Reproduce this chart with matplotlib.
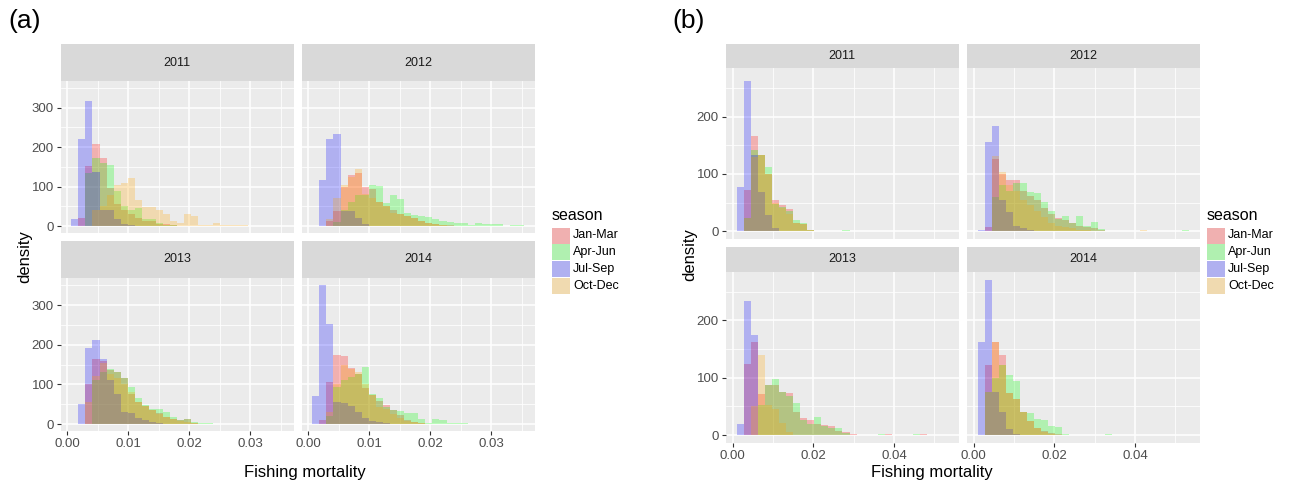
import numpy as np
import matplotlib.pyplot as plt

W, H = 1298, 483
plt.rcParams['font.family'] = ['Liberation Sans', 'DejaVu Sans']

seasons = ['Jan-Mar', 'Apr-Jun', 'Jul-Sep', 'Oct-Dec']
fills = ['#FF0000', '#00FF00', '#0000FF', '#FFA500']
years = ['2011', '2012', '2013', '2014']

# histogram bins (start of first bin, bin width)
a_start, a_width = 0.00064, 0.00116
b_start, b_width = 0.00096, 0.00175

# (a) densities per bin
a11_jan = [0, 21, 152, 208, 173, 97, 55, 40, 30, 20, 12, 12, 5, 5, 3]
a11_apr = [0, 0, 135, 173, 160, 155, 90, 50, 42, 46, 17, 17, 7, 4, 2]
a11_jul = [19, 220, 317, 137, 42, 40, 17, 5, 3]
a11_oct = [0, 0, 0, 42, 50, 80, 104, 110, 121, 65, 49, 49, 41, 30, 14, 7, 31, 25, 2, 2, 7, 4, 3, 2, 2]

a12_jan = [0, 0, 13, 38, 100, 130, 135, 100, 95, 60, 50, 40, 30, 25, 20, 12, 8, 5, 3, 2]
a12_apr = [0, 0, 0, 10, 40, 60, 80, 80, 103, 102, 59, 78, 69, 32, 29, 26, 23, 18, 13, 11,
           7, 7, 3, 9, 5, 5, 5, 0, 3, 3]
a12_jul = [0, 117, 220, 232, 38, 38, 20, 5]
a12_oct = [0, 0, 17, 72, 105, 125, 144, 82, 70, 60, 50, 32, 30, 25, 20, 12, 8, 5, 2]

a13_jan = [0, 0, 102, 165, 160, 137, 132, 117, 77, 56, 45, 35, 29, 18, 12, 10, 14, 3]
a13_apr = [0, 0, 0, 110, 132, 138, 130, 115, 94, 65, 48, 37, 37, 31, 17, 10, 14, 6, 3, 2]
a13_jul = [0, 50, 192, 213, 165, 111, 77, 31, 27, 15, 10, 5, 3]
a13_oct = [0, 0, 55, 120, 153, 125, 115, 100, 80, 55, 45, 35, 25, 18, 12, 8, 5, 3, 1]

a14_jan = [0, 10, 107, 174, 171, 142, 125, 92, 73, 59, 48, 35, 23, 10, 5, 3]
a14_apr = [0, 0, 20, 94, 111, 119, 127, 143, 77, 65, 44, 35, 34, 27, 27, 14, 3, 12, 10, 3, 3, 2]
a14_jul = [71, 350, 252, 55, 52, 45, 30, 15, 8, 5, 3]
a14_oct = [0, 0, 30, 100, 148, 140, 132, 100, 73, 44, 38, 25, 15, 8, 4, 2]

# (b) densities per bin
b11_jan = [0, 72, 167, 133, 100, 55, 45, 38, 15, 12, 2, 1, 1, 0, 1]
b11_apr = [0, 24, 142, 133, 113, 48, 42, 35, 20, 15, 2, 1, 0, 1, 0, 3]
b11_jul = [77, 262, 133, 68, 28, 5]
b11_oct = [0, 24, 130, 133, 100, 50, 40, 30, 15, 12, 2, 1]

b12_jan = [0, 7, 127, 100, 90, 90, 70, 62, 55, 40, 30, 24, 20, 15, 10, 8, 5, 2]
b12_apr = [0, 0, 60, 80, 71, 85, 85, 68, 66, 51, 36, 22, 27, 15, 27, 10, 16, 4, 1,
           0, 0, 0, 0, 0, 0, 0, 0, 0, 0, 2]
b12_jul = [2, 156, 183, 55, 33, 10, 5, 2]
b12_oct = [0, 0, 132, 103, 80, 70, 55, 45, 35, 25, 15, 10, 8, 5, 3, 2, 0, 0, 0, 0, 0, 0, 0, 2]

b13_jan = [0, 124, 162, 72, 88, 88, 75, 74, 40, 30, 26, 20, 17, 16, 8, 5, 2,
           0, 0, 0, 0, 2, 0, 0, 0, 0, 2]
b13_apr = [0, 0, 0, 52, 88, 97, 75, 68, 56, 27, 19, 32, 16, 13, 12, 4, 1,
           0, 0, 0, 2, 0, 0, 0, 0, 2]
b13_jul = [19, 234, 174]
b13_oct = [0, 0, 50, 139, 52, 45, 21, 5]

b14_jan = [0, 122, 163, 139, 74, 63, 40, 24, 13, 8, 4, 2, 1]
b14_apr = [0, 75, 100, 122, 104, 95, 40, 39, 28, 27, 16, 14, 3, 1, 1, 1, 0, 0, 2]
b14_jul = [163, 270, 75, 40, 10, 3]
b14_oct = [0, 75, 163, 122, 74, 63, 40, 24, 13, 5, 2]

a_data = {'2011': [a11_jan, a11_apr, a11_jul, a11_oct],
          '2012': [a12_jan, a12_apr, a12_jul, a12_oct],
          '2013': [a13_jan, a13_apr, a13_jul, a13_oct],
          '2014': [a14_jan, a14_apr, a14_jul, a14_oct]}
b_data = {'2011': [b11_jan, b11_apr, b11_jul, b11_oct],
          '2012': [b12_jan, b12_apr, b12_jul, b12_oct],
          '2013': [b13_jan, b13_apr, b13_jul, b13_oct],
          '2014': [b14_jan, b14_apr, b14_jul, b14_oct]}


def px_axes(fig, x0, x1, y0, y1):
    return fig.add_axes([x0 / W, 1 - y1 / H, (x1 - x0) / W, (y1 - y0) / H])


def blend(c, a=0.25, bg=(235 / 255, 235 / 255, 235 / 255)):
    from matplotlib.colors import to_rgb
    r = to_rgb(c)
    return tuple(a * r[i] + (1 - a) * bg[i] for i in range(3))


def draw_facets(fig, data, start, width, cols, rows, xlim, ylim, xmaj, xmin, ymaj, ymin, xfmt):
    for i, yr in enumerate(years):
        r, c = divmod(i, 2)
        (sy0, sy1), (py0, py1) = rows[r]
        x0, x1 = cols[c]
        ax = px_axes(fig, x0, x1, py0, py1)
        ax.set_facecolor('#EBEBEB')
        for h, col in zip(data[yr], fills):
            h = np.array(h, float)
            edges = start + width * np.arange(len(h) + 1)
            ax.stairs(h, edges, fill=True, color=col, alpha=0.25, linewidth=0)
        ax.set_xlim(xlim)
        ax.set_ylim(ylim)
        ax.set_xticks(xmaj)
        ax.set_xticks(xmin, minor=True)
        ax.set_yticks(ymaj)
        ax.set_yticks(ymin, minor=True)
        ax.grid(which='major', color='white', linewidth=1.1)
        ax.grid(which='minor', color='white', linewidth=0.55)
        ax.set_axisbelow(True)
        for s in ax.spines.values():
            s.set_visible(False)
        ax.tick_params(which='minor', length=0)
        ax.tick_params(which='major', length=3, width=0.8, color='#333333',
                       labelcolor='#4D4D4D', labelsize=9.5, pad=2)
        if r == 1:
            ax.set_xticklabels([xfmt % v for v in xmaj])
        else:
            ax.tick_params(axis='x', which='both', length=0, labelbottom=False)
        if c == 0:
            ax.set_yticklabels(['%d' % v for v in ymaj])
        else:
            ax.tick_params(axis='y', which='both', length=0, labelleft=False)
        sax = px_axes(fig, x0, x1, sy0, sy1)
        sax.set_facecolor('#D9D9D9')
        sax.set_xticks([])
        sax.set_yticks([])
        for s in sax.spines.values():
            s.set_visible(False)
        sax.text(0.5, 0.5, yr, ha='center', va='center', fontsize=9,
                 color='#1A1A1A', transform=sax.transAxes)


def draw_legend(fig, x, y):
    fig.text(x / W, 1 - y / H, 'season', fontsize=11.5, ha='left', va='center')
    for j, (lab, col) in enumerate(zip(seasons, fills)):
        top = 227.5 + j * 16.7
        kax = px_axes(fig, x, x + 18, top, top + 16)
        kax.set_facecolor(blend(col))
        kax.set_xticks([])
        kax.set_yticks([])
        for s in kax.spines.values():
            s.set_visible(False)
        fig.text((x + 21) / W, 1 - (top + 8) / H, lab, fontsize=9, ha='left', va='center')


fig = plt.figure(figsize=(W / 100, H / 100), dpi=100)

# panel (a)
draw_facets(fig, a_data, a_start, a_width,
            cols=[(60.7, 294), (301.7, 535)],
            rows=[((44, 81), (81, 233)), ((240.7, 278.3), (278.3, 431))],
            xlim=(-0.0011, 0.0372), ylim=(-17.5, 367.5),
            xmaj=[0.0, 0.01, 0.02, 0.03], xmin=[0.005, 0.015, 0.025, 0.035],
            ymaj=[0, 100, 200, 300], ymin=[50, 150, 250, 350], xfmt='%.2f')
draw_legend(fig, 552, 215)
fig.text(8 / W, 1 - 21 / H, '(a)', fontsize=19, ha='left', va='center')
fig.text(25 / W, 1 - 257 / H, 'density', fontsize=12, rotation=90, ha='center', va='center')
fig.text(305 / W, 1 - 472 / H, 'Fishing mortality', fontsize=12, ha='center', va='center')

# panel (b)
draw_facets(fig, b_data, b_start, b_width,
            cols=[(725.7, 959), (966.7, 1200)],
            rows=[((44, 68.3), (68.3, 239)), ((247.3, 271.7), (271.7, 443))],
            xlim=(-0.00173, 0.0561), ylim=(-13.5, 284.5),
            xmaj=[0.0, 0.02, 0.04], xmin=[0.01, 0.03, 0.05],
            ymaj=[0, 100, 200], ymin=[50, 150, 250], xfmt='%.2f')
draw_legend(fig, 1207, 215)
fig.text(672 / W, 1 - 21 / H, '(b)', fontsize=19, ha='left', va='center')
fig.text(690 / W, 1 - 255 / H, 'density', fontsize=12, rotation=90, ha='center', va='center')
fig.text(932 / W, 1 - 473 / H, 'Fishing mortality', fontsize=12, ha='center', va='center')

fig.savefig('out.png', dpi=100)
